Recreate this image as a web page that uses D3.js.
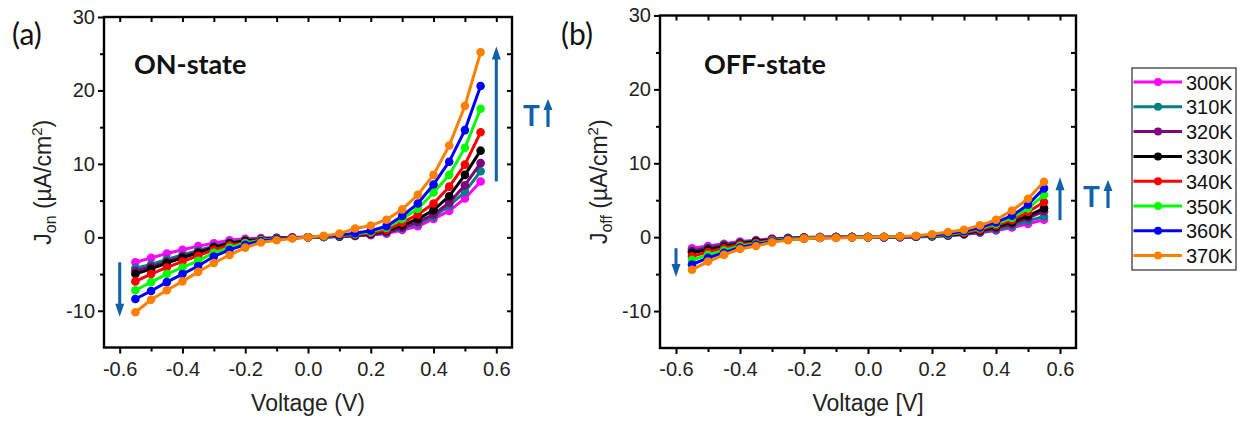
<!DOCTYPE html>
<html>
<head>
<meta charset="utf-8">
<script src="https://cdn.jsdelivr.net/npm/d3@7"></script>
<style>
  html, body { margin: 0; padding: 0; background: #fff; }
  svg { display: block; }
  .tick text { font-family: "Liberation Sans", Arial, sans-serif; font-size: 20px; fill: #222; }
</style>
</head>
<body>
<svg id="chart" width="1244" height="422"></svg>
<script>
// Bias sweep (V)
const voltage = [-0.55, -0.5, -0.45, -0.4, -0.35, -0.3, -0.25, -0.2, -0.15, -0.1, -0.05, 0,
                 0.05, 0.1, 0.15, 0.2, 0.25, 0.3, 0.35, 0.4, 0.45, 0.5, 0.55];

// Temperatures and their colours
const temps = ["300K", "310K", "320K", "330K", "340K", "350K", "360K", "370K"];
const colors = ["#ff00ff", "#008080", "#800080", "#000000", "#ff0000", "#00ff00", "#0000ff", "#ff8000"];

// ON-state current density (µA/cm²)
const on300 = [-3.4, -2.8, -2.2, -1.7, -1.2, -0.8, -0.4, -0.2, -0.1, -0.05, 0, 0, 0.05, 0.1, 0.2, 0.3, 0.5, 1.0, 1.5, 2.5, 3.6, 5.3, 7.6];
const on310 = [-4.2, -3.7, -3.0, -2.4, -1.8, -1.2, -0.7, -0.4, -0.2, -0.1, -0.05, 0, 0.05, 0.1, 0.2, 0.35, 0.6, 1.2, 1.9, 2.8, 4.3, 6.2, 9.0];
const on320 = [-4.6, -4.0, -3.3, -2.6, -2.0, -1.3, -0.8, -0.5, -0.25, -0.1, -0.05, 0, 0.05, 0.15, 0.25, 0.4, 0.7, 1.3, 2.1, 3.1, 4.7, 7.1, 10.1];
const on330 = [-5.0, -4.3, -3.5, -2.8, -2.1, -1.4, -0.8, -0.5, -0.3, -0.1, -0.05, 0, 0.05, 0.15, 0.3, 0.5, 0.9, 1.6, 2.5, 3.7, 5.6, 8.5, 11.8];
const on340 = [-6.0, -5.0, -4.1, -3.3, -2.5, -1.7, -1.1, -0.7, -0.35, -0.15, -0.05, 0, 0.1, 0.2, 0.35, 0.6, 1.0, 2.0, 3.1, 4.6, 6.9, 9.9, 14.3];
const on350 = [-7.2, -6.1, -5.0, -4.1, -3.2, -2.1, -1.4, -0.8, -0.4, -0.2, -0.1, 0, 0.1, 0.25, 0.45, 0.75, 1.3, 2.5, 3.9, 6.1, 8.5, 12.2, 17.5];
const on360 = [-8.4, -7.3, -6.1, -5.0, -3.9, -2.6, -1.7, -1.0, -0.5, -0.25, -0.1, 0, 0.15, 0.3, 0.55, 0.9, 1.5, 2.9, 4.6, 7.2, 10.3, 14.6, 20.6];
const on370 = [-10.2, -8.5, -7.2, -6.0, -4.7, -3.5, -2.4, -1.4, -0.7, -0.4, -0.15, 0, 0.2, 0.5, 1.2, 1.6, 2.4, 3.8, 5.8, 8.5, 12.5, 17.9, 25.2];

// OFF-state current density (µA/cm²)
const off300 = [-1.5, -1.2, -0.9, -0.6, -0.4, -0.2, -0.1, -0.05, 0, 0, 0, 0, 0, 0, 0.05, 0.1, 0.2, 0.35, 0.6, 0.9, 1.3, 1.8, 2.35];
const off310 = [-1.8, -1.4, -1.0, -0.7, -0.5, -0.3, -0.15, -0.05, 0, 0, 0, 0, 0, 0, 0.05, 0.1, 0.2, 0.4, 0.65, 1.0, 1.5, 2.2, 2.8];
const off320 = [-1.9, -1.5, -1.1, -0.8, -0.55, -0.3, -0.15, -0.05, 0, 0, 0, 0, 0, 0, 0.05, 0.15, 0.25, 0.45, 0.75, 1.2, 1.8, 2.6, 3.5];
const off330 = [-2.1, -1.7, -1.3, -0.9, -0.6, -0.35, -0.2, -0.1, -0.05, 0, 0, 0, 0, 0.05, 0.1, 0.15, 0.3, 0.5, 0.9, 1.4, 2.0, 2.9, 3.9];
const off340 = [-2.6, -2.0, -1.5, -1.0, -0.75, -0.4, -0.25, -0.1, -0.05, 0, 0, 0, 0, 0.05, 0.1, 0.2, 0.35, 0.6, 1.0, 1.6, 2.3, 3.4, 4.75];
const off350 = [-3.1, -2.4, -1.8, -1.2, -0.9, -0.5, -0.25, -0.15, -0.05, -0.05, 0, 0, 0, 0.05, 0.1, 0.2, 0.4, 0.7, 1.2, 1.8, 2.6, 3.9, 5.7];
const off360 = [-3.7, -2.8, -2.1, -1.4, -1.0, -0.6, -0.3, -0.2, -0.1, -0.05, 0, 0, 0, 0.05, 0.1, 0.25, 0.5, 0.8, 1.3, 2.0, 2.9, 4.4, 6.6];
const off370 = [-4.4, -3.3, -2.4, -1.6, -1.2, -0.7, -0.4, -0.2, -0.1, -0.1, -0.05, 0, 0.05, 0.1, 0.2, 0.4, 0.7, 1.0, 1.6, 2.35, 3.6, 5.2, 7.5];

// Axis ticks
const xTicks = [-0.6, -0.4, -0.2, 0.0, 0.2, 0.4, 0.6];
const xMinor = [-0.5, -0.3, -0.1, 0.1, 0.3, 0.5];
const yTicks = [-10, 0, 10, 20, 30];
const yMinor = [-15, -5, 5, 15, 25];

const onSeries = [on300, on310, on320, on330, on340, on350, on360, on370];
const offSeries = [off300, off310, off320, off330, off340, off350, off360, off370];

const ARROW = "#1060aa";
const svg = d3.select("#chart");

// plain hyphen for negative tick labels
const fmtX = d => d3.format(".1f")(d).replace("\u2212", "-");
const fmtY = d => String(d);

function styleTicks(a) {
  a.select(".domain").remove();
  a.selectAll(".tick line").attr("stroke", "#000").attr("stroke-width", 2);
}

function panel(cfg) {
  const x = d3.scaleLinear().domain([-0.65, 0.65]).range([cfg.left, cfg.right]);
  const y = d3.scaleLinear().domain([-15, 30]).range([cfg.bottom, cfg.top]);
  const g = svg.append("g");

  // bottom axis: labelled major ticks plus minor ticks, outward
  g.append("g").attr("transform", `translate(0,${cfg.bottom})`)
    .call(d3.axisBottom(x).tickValues(xTicks).tickSize(6).tickPadding(8).tickFormat(fmtX))
    .call(styleTicks);
  g.append("g").attr("transform", `translate(0,${cfg.bottom})`)
    .call(d3.axisBottom(x).tickValues(xMinor).tickSize(4).tickFormat(""))
    .call(styleTicks);

  // left axis
  g.append("g").attr("transform", `translate(${cfg.left},0)`)
    .call(d3.axisLeft(y).tickValues(yTicks).tickSize(6).tickPadding(3).tickFormat(fmtY))
    .call(styleTicks);
  g.append("g").attr("transform", `translate(${cfg.left},0)`)
    .call(d3.axisLeft(y).tickValues(yMinor.filter(v => v > -15)).tickSize(4).tickFormat(""))
    .call(styleTicks);

  // top axis: inward ticks every 0.1
  g.append("g").attr("transform", `translate(0,${cfg.top})`)
    .call(d3.axisBottom(x).tickValues(xTicks.concat(xMinor)).tickSize(5).tickFormat(""))
    .call(styleTicks);
  // right axis: inward ticks every 5
  g.append("g").attr("transform", `translate(${cfg.right},0)`)
    .call(d3.axisLeft(y).tickValues(yTicks.concat(yMinor).filter(v => v > -15 && v < 30)).tickSize(5).tickFormat(""))
    .call(styleTicks);

  // frame
  g.append("rect")
    .attr("x", cfg.left).attr("y", cfg.top)
    .attr("width", cfg.right - cfg.left).attr("height", cfg.bottom - cfg.top)
    .attr("fill", "none").attr("stroke", "#000").attr("stroke-width", 2.4);

  // series
  const line = d3.line().x((d, i) => x(voltage[i])).y(d => y(d));
  const plot = g.append("g");
  cfg.series.forEach((vals, k) => {
    const s = plot.append("g");
    s.append("path").datum(vals)
      .attr("d", line).attr("fill", "none")
      .attr("stroke", colors[k]).attr("stroke-width", 3).attr("stroke-linejoin", "round");
    s.selectAll("circle").data(vals).join("circle")
      .attr("cx", (d, i) => x(voltage[i])).attr("cy", d => y(d))
      .attr("r", 4.3).attr("fill", colors[k]);
  });

  // axis titles
  g.append("text")
    .attr("x", x(0)).attr("y", cfg.bottom + 63)
    .attr("text-anchor", "middle")
    .attr("font-family", "Liberation Sans, Arial, sans-serif")
    .attr("font-size", 23).attr("fill", "#222")
    .text(cfg.xTitle);

  const yt = g.append("text")
    .attr("transform", `translate(${cfg.yTitleX},${(cfg.top + cfg.bottom) / 2}) rotate(-90)`)
    .attr("text-anchor", "middle")
    .attr("font-family", "Liberation Sans, Arial, sans-serif")
    .attr("font-size", 23).attr("fill", "#222");
  yt.append("tspan").text("J");
  yt.append("tspan").attr("font-size", 16).attr("dy", 5).text(cfg.sub);
  yt.append("tspan").attr("dy", -5).text(" (µA/cm");
  yt.append("tspan").attr("font-size", 15).attr("dy", -9).text("2");
  yt.append("tspan").attr("dy", 9).text(")");

  // panel tag and state label
  g.append("text").attr("x", cfg.tagX).attr("y", 45)
    .attr("font-family", "Lato, sans-serif").attr("font-size", 30).attr("fill", "#111")
    .text(cfg.tag);
  g.append("text").attr("x", cfg.stateX).attr("y", 74)
    .attr("font-family", "Lato, sans-serif").attr("font-weight", "bold")
    .attr("font-size", 27).attr("fill", "#111")
    .text(cfg.state);

  // temperature-trend arrows
  function arrow(xv, y0, y1, head) {
    const px = x(xv), p0 = y(y0), p1 = y(y1);
    const dir = p1 < p0 ? 1 : -1;
    g.append("line").attr("x1", px).attr("x2", px)
      .attr("y1", p0).attr("y2", p1 + dir * head * 0.8)
      .attr("stroke", ARROW).attr("stroke-width", 3);
    g.append("path")
      .attr("d", `M${px},${p1} L${px - 4.5},${p1 + dir * head} L${px + 4.5},${p1 + dir * head} Z`)
      .attr("fill", ARROW);
  }
  arrow(-0.6, cfg.down[0], cfg.down[1], 13);
  arrow(0.6, cfg.up[0], cfg.up[1], 13);

  // "T↑" note
  g.append("text").attr("x", cfg.tX).attr("y", cfg.tY)
    .attr("font-family", "Lato, sans-serif").attr("font-weight", "bold")
    .attr("font-size", 28).attr("fill", ARROW).text("T");
  const ax = cfg.tX + 25, ab = cfg.tY + 1, at = cfg.tY - 27;
  g.append("line").attr("x1", ax).attr("x2", ax).attr("y1", ab).attr("y2", at + 8)
    .attr("stroke", ARROW).attr("stroke-width", 3.2);
  g.append("path").attr("d", `M${ax},${at} L${ax - 4.5},${at + 11} L${ax + 4.5},${at + 11} Z`)
    .attr("fill", ARROW);
}

panel({
  left: 104, right: 512, top: 17, bottom: 347.5,
  series: onSeries, sub: "on", yTitleX: 51, xTitle: "Voltage (V)",
  tag: "(a)", tagX: 12, state: "ON-state", stateX: 134,
  down: [-3.4, -10.8], up: [7.6, 26], tX: 523, tY: 126
});
panel({
  left: 660, right: 1076, top: 15.5, bottom: 348,
  series: offSeries, sub: "off", yTitleX: 607, xTitle: "Voltage [V]",
  tag: "(b)", tagX: 561, state: "OFF-state", stateX: 704,
  down: [-1.5, -5.4], up: [2.3, 8.1], tX: 1083, tY: 207
});

// legend
const lg = svg.append("g");
const legTop = 68, legRow = 24.8, legX = 1132;
lg.append("rect").attr("x", legX).attr("y", legTop)
  .attr("width", 104).attr("height", 202)
  .attr("fill", "#fff").attr("stroke", "#555").attr("stroke-width", 1.5);
temps.forEach((t, k) => {
  const cy = legTop + 14 + k * legRow;
  lg.append("line").attr("x1", legX + 1.5).attr("x2", legX + 50).attr("y1", cy).attr("y2", cy)
    .attr("stroke", colors[k]).attr("stroke-width", 3);
  lg.append("circle").attr("cx", legX + 26).attr("cy", cy).attr("r", 4).attr("fill", colors[k]);
  lg.append("text").attr("x", legX + 54).attr("y", cy + 7.5)
    .attr("font-family", "Liberation Sans, Arial, sans-serif").attr("font-size", 20).attr("fill", "#111")
    .text(t);
});
</script>
</body>
</html>
